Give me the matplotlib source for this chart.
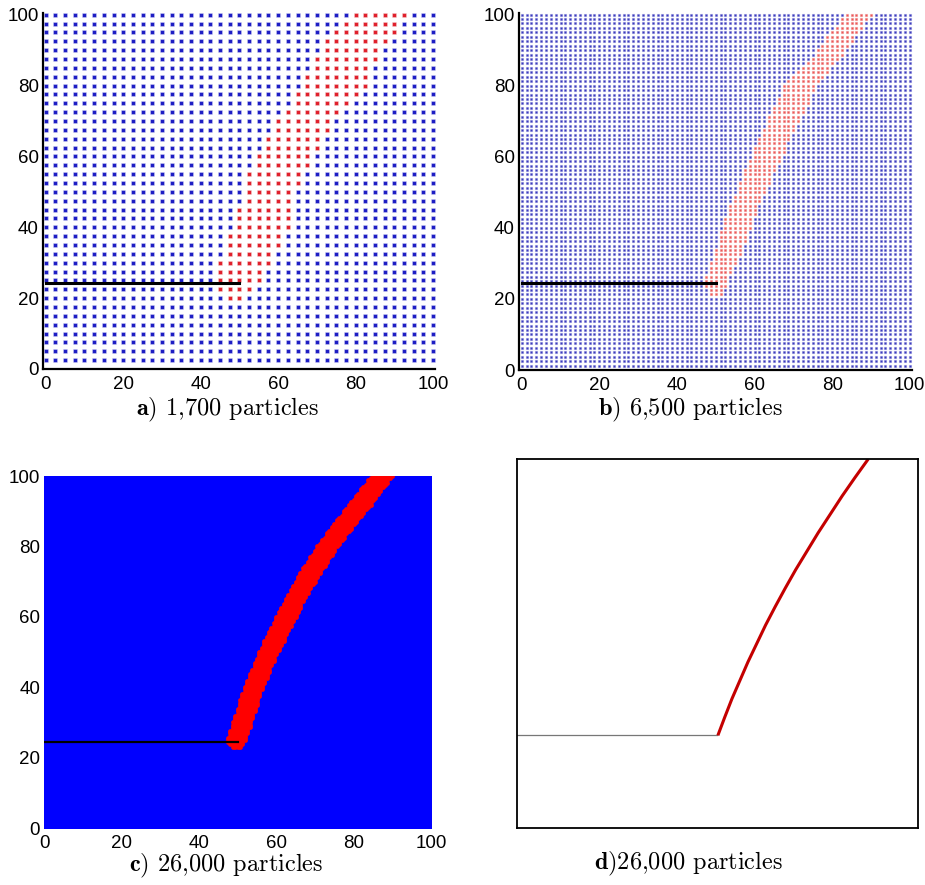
import numpy as np
import matplotlib
matplotlib.use("Agg")
from matplotlib import pyplot as plt

plt.rcParams['font.family'] = ['Liberation Sans', 'DejaVu Sans']
plt.rcParams['mathtext.fontset'] = 'cm'

# initial crack (notch)
crack_x = [0, 50]
crack_y = [24.4, 24.4]

# a) 1,700 particles: damaged (red) particles, left / right edge per row
a_rows = [20, 22.5, 25, 27.5, 30, 32.5, 35, 37.5, 40, 42.5, 45, 47.5, 50, 52.5, 55, 57.5, 60,
          62.5, 65, 67.5, 70, 72.5, 75, 77.5, 80, 82.5, 85, 87.5, 90, 92.5, 95, 97.5, 100]
a_left = [47.5, 45, 45, 45, 45, 47.5, 47.5, 47.5, 50, 50, 50, 52.5, 52.5, 52.5, 52.5, 55, 55,
          57.5, 57.5, 60, 60, 62.5, 65, 65, 67.5, 67.5, 70, 70, 72.5, 72.5, 75, 77.5, 80]
a_right = [50, 52.5, 55, 55, 57.5, 57.5, 60, 60, 62.5, 62.5, 62.5, 62.5, 62.5, 65, 65, 67.5, 67.5,
           70, 70, 72.5, 72.5, 75, 77.5, 80, 82.5, 82.5, 82.5, 85, 85, 87.5, 90, 90, 92.5]

# b) 6,500 particles: edges of the damaged band
b_y = [21, 25, 33, 40, 47, 59, 72, 80, 87, 100]
b_left = [48, 47, 49.5, 51.5, 54, 58.5, 64, 67.5, 74, 83]
b_right = [51.5, 53, 56.5, 59, 61.5, 66.5, 72.5, 76, 81.5, 90]

# c) 26,000 particles: centre line of the damaged band and its half width
c_path_y = [25, 30, 35, 40, 45, 50, 55, 60, 65, 70, 75, 80, 85, 90, 95, 100, 102]
c_path_x = [49.6, 51.1, 52.6, 54.1, 56.0, 58.0, 60.2, 62.5, 64.9, 67.4, 70.2, 73.2, 76.6,
            80.2, 83.8, 87.3, 88.6]
c_half = 2.3

# d) crack path
d_path_y = [25.1, 30, 35, 40, 45, 50, 55, 60, 65, 70, 75, 80, 85, 90, 95, 100]
d_path_x = [50.1, 51.8, 53.6, 55.6, 57.6, 59.8, 62.0, 64.4, 66.9, 69.5, 72.3, 75.1, 78.1,
            81.1, 84.3, 87.6]

captions = [r'$\mathbf{a)}$ 1,700 particles', r'$\mathbf{b)}$ 6,500 particles',
            r'$\mathbf{c)}$ 26,000 particles', r'$\mathbf{d)}$26,000 particles']
ticks = [0, 20, 40, 60, 80, 100]


def dist_to_path(px, py, xs, ys):
    d = np.full(px.shape, np.inf)
    for x0, y0, x1, y1 in zip(xs[:-1], ys[:-1], xs[1:], ys[1:]):
        dx, dy = x1 - x0, y1 - y0
        t = np.clip(((px - x0) * dx + (py - y0) * dy) / (dx * dx + dy * dy), 0, 1)
        d = np.minimum(d, np.hypot(px - x0 - t * dx, py - y0 - t * dy))
    return d


def style(ax):
    ax.set_xticks(ticks)
    ax.set_yticks(ticks)
    ax.tick_params(length=0, labelsize=13.5, colors='black')
    ax.tick_params(axis='x', pad=5)
    ax.tick_params(axis='y', pad=3)


def dots(ax, x, y, size, color):
    pc = ax.scatter(x, y, s=size, marker='s', c=color, linewidths=0)
    pc.set_snap(False)


fig = plt.figure(figsize=(9.25, 8.85), dpi=100)

# --- a
ax = fig.add_axes([0.0465, 0.5831, 0.4238, 0.4023])
gx, gy = np.meshgrid(np.linspace(0, 100, 41), np.linspace(2.5, 100, 40))
gx, gy = gx.ravel(), gy.ravel()
red = np.zeros(gx.shape, bool)
for r, lo, hi in zip(a_rows, a_left, a_right):
    red |= np.isclose(gy, r) & (gx >= lo - 0.1) & (gx <= hi + 0.1)
dots(ax, gx[~red], gy[~red], 11.5, '#cacaf2')
dots(ax, gx[red], gy[red], 11.5, '#f4caca')
dots(ax, gx[~red], gy[~red], 6, '#1e1ec4')
dots(ax, gx[red], gy[red], 6, '#e0202c')
ax.plot(crack_x, crack_y, color='black', lw=2.2)
ax.set_xlim(-0.7, 100.5)
ax.set_ylim(0, 100.5)
for s in ['top', 'right']:
    ax.spines[s].set_visible(False)
for s in ['left', 'bottom']:
    ax.spines[s].set_linewidth(1.6)
style(ax)

# --- b
ax = fig.add_axes([0.5611, 0.5819, 0.4245, 0.4037])
gx, gy = np.meshgrid(np.linspace(0, 100, 81), np.linspace(1.25, 100, 80))
gx, gy = gx.ravel(), gy.ravel()
red = (gy >= b_y[0]) & (gx >= np.interp(gy, b_y, b_left)) & (gx <= np.interp(gy, b_y, b_right))
dots(ax, gx[~red], gy[~red], 5, '#c4c4ee')
dots(ax, gx[red], gy[red], 5, '#f8c4c4')
dots(ax, gx[~red], gy[~red], 2, '#3c3cbc')
dots(ax, gx[red], gy[red], 2, '#ea5858')
ax.plot(crack_x, crack_y, color='black', lw=2.2)
ax.set_xlim(-0.7, 100.5)
ax.set_ylim(0, 100.5)
for s in ['top', 'right']:
    ax.spines[s].set_visible(False)
for s in ['left', 'bottom']:
    ax.spines[s].set_linewidth(1.6)
style(ax)

# --- c
ax = fig.add_axes([0.0479, 0.0644, 0.418, 0.3977])
gx, gy = np.meshgrid(np.linspace(0, 100, 161), np.linspace(0, 100, 161))
gx, gy = gx.ravel(), gy.ravel()
red = dist_to_path(gx, gy, c_path_x, c_path_y) <= c_half
ax.scatter(gx[~red], gy[~red], s=6, marker='s', c='#0000ff', linewidths=0)
ax.scatter(gx[red], gy[red], s=12, marker='o', c='#ff0000', linewidths=0)
ax.plot(crack_x, crack_y, color='black', lw=1.6)
ax.set_xlim(0, 100)
ax.set_ylim(0, 100)
for s in ax.spines.values():
    s.set_visible(False)
style(ax)

# --- d
ax = fig.add_axes([0.5589, 0.0644, 0.4335, 0.4169])
ax.plot(crack_x, [d_path_y[0], d_path_y[0]], color='#777777', lw=0.9)
ax.plot(d_path_x, d_path_y, color='#c40000', lw=2.2, solid_capstyle='butt')
ax.set_xlim(0, 100)
ax.set_ylim(0, 100)
ax.set_xticks([])
ax.set_yticks([])
for s in ax.spines.values():
    s.set_linewidth(1.3)

cap_pos = [(228, 410), (690, 410), (226, 866), (688, 864)]
for text, (px, py) in zip(captions, cap_pos):
    fig.text(px / 925, 1 - py / 885, text, family='cmr10', fontsize=17.5,
             ha='center', va='center')

fig.savefig('out.png', dpi=100)
